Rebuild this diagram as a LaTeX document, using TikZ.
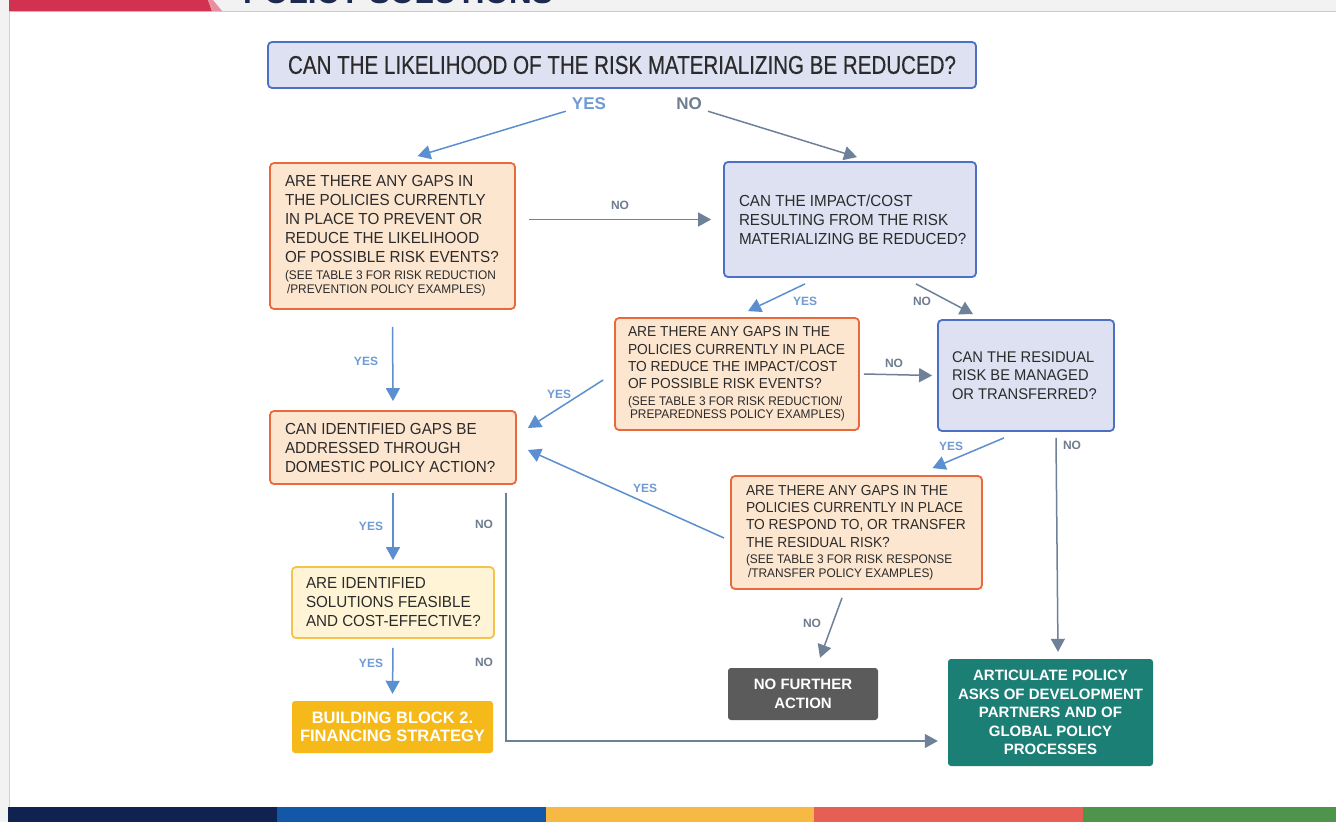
\documentclass[tikz,border=0pt]{standalone}
\usepackage{fontspec}
\setmainfont{Liberation Sans}
\newfontfamily\condfont{Liberation Sans}[FakeStretch=0.8,FakeBold=0.4]
\newfontfamily\boxfont{Liberation Sans}[FakeStretch=0.95]
\usetikzlibrary{arrows.meta}
\definecolor{txt}{HTML}{2B2B2B}
\definecolor{lavfill}{HTML}{DDE1F2}
\definecolor{lavline}{HTML}{4D6FC4}
\definecolor{orfill}{HTML}{FDE6D0}
\definecolor{orline}{HTML}{E9693A}
\definecolor{ylfill}{HTML}{FFF5D6}
\definecolor{ylline}{HTML}{F3C34E}
\definecolor{ysolid}{HTML}{F6B91A}
\definecolor{dgrey}{HTML}{5B5B5B}
\definecolor{teal}{HTML}{1B7F76}
\definecolor{yesarr}{HTML}{5C8FD0}
\definecolor{noarr}{HTML}{6E8199}
\definecolor{yestxt}{HTML}{6F9BD5}
\definecolor{notxt}{HTML}{6E7D8F}
\definecolor{hdrgrey}{HTML}{F2F2F2}
\definecolor{hdrred}{HTML}{D23250}
\definecolor{hdrpink}{HTML}{E8909F}
\definecolor{hdrnavy}{HTML}{1B2A4E}
\definecolor{barnavy}{HTML}{10224F}
\definecolor{barblue}{HTML}{1257A8}
\definecolor{baryel}{HTML}{F6B944}
\definecolor{barred}{HTML}{E65F55}
\definecolor{bargreen}{HTML}{4E954B}
\newcommand\mainsz{\boxfont\fontsize{16}{19}\selectfont}
\newcommand\smsz{\boxfont\fontsize{14.5}{17.3}\selectfont}
\newcommand\notesz{\boxfont\fontsize{12.5}{14}\selectfont}
\newcommand\notesmsz{\boxfont\fontsize{12.5}{13.5}\selectfont}
\tikzset{
  >={Triangle[length=13pt,width=14pt]},
  box/.style={rectangle,rounded corners=4pt,line width=1.8pt,align=flush left,inner xsep=15pt,inner ysep=0pt,text=txt,font=\mainsz,
    execute at begin node={\rightskip=0pt plus 1fil minus 30pt}},
  lav/.style={box,draw=lavline,fill=lavfill},
  org/.style={box,draw=orline,fill=orfill},
  ylw/.style={box,draw=ylline,fill=ylfill},
  endbox/.style={rectangle,rounded corners=3pt,align=center,text=white,inner sep=0pt,font=\bfseries\fontsize{15}{18.5}\selectfont},
  yl/.style={text=yestxt,inner sep=1pt,font=\bfseries\fontsize{12}{12}\selectfont},
  nl/.style={text=notxt,inner sep=1pt,font=\bfseries\fontsize{12}{12}\selectfont},
  ya/.style={->,draw=yesarr,line width=1.5pt},
  na/.style={->,draw=noarr,line width=1.5pt},
}
\begin{document}
\begin{tikzpicture}[x=1pt,y=-1pt]
\useasboundingbox (0,0) rectangle (1336,822);
% page frame
\fill[white] (0,0) rectangle (1336,822);
\fill[hdrgrey] (0,0) rectangle (9,822);
\draw[black!18,line width=0.8pt] (9,11) -- (9,822);
\fill[hdrgrey] (9,0) rectangle (1336,11);
\draw[black!20,line width=0.8pt] (9,11.5) -- (1336,11.5);
\fill[hdrred] (9,0) -- (208,0) -- (212,11) -- (9,11) -- cycle;
\fill[hdrpink] (208,0) -- (213,0) -- (222,11) -- (212,11) -- cycle;
\begin{scope}
\clip (9,0) rectangle (1336,11);
\node[anchor=base west,inner sep=0pt,text=hdrnavy,font=\bfseries\fontsize{31.5}{32}\selectfont] (hdr) at (243,3) {POLICY SOLUTIONS};
\end{scope}
\fill[barnavy] (8,807) rectangle (277,822);
\fill[barblue] (277,807) rectangle (546,822);
\fill[baryel] (546,807) rectangle (814,822);
\fill[barred] (814,807) rectangle (1083,822);
\fill[bargreen] (1083,807) rectangle (1336,822);

% question boxes
\node[lav,minimum width=708pt,minimum height=46pt,align=center,font=\condfont\fontsize{25.7}{26}\selectfont] (T) at (622,65) {CAN THE LIKELIHOOD OF THE RISK MATERIALIZING BE REDUCED?};
\node[org,text width=215pt,minimum height=146pt] (A) at (392.5,236) {ARE THERE ANY GAPS IN\\ THE POLICIES CURRENTLY\\ IN PLACE TO PREVENT OR\\ REDUCE THE LIKELIHOOD\\ OF POSSIBLE RISK EVENTS?\par\notesz\vspace{3pt}(SEE TABLE 3 FOR RISK REDUCTION\\ \hspace*{2pt}/PREVENTION POLICY EXAMPLES)\par};
\node[lav,text width=222pt,minimum height=115pt] (B) at (850,219.5) {CAN THE IMPACT/COST\\ RESULTING FROM THE RISK\\ MATERIALIZING BE REDUCED?};
\node[org,inner xsep=13pt,text width=218pt,minimum height=112pt,font=\smsz] (C) at (737,374) {ARE THERE ANY GAPS IN THE\\ POLICIES CURRENTLY IN PLACE\\ TO REDUCE THE IMPACT/COST\\ OF POSSIBLE RISK EVENTS?\par\notesmsz\vspace{3pt}(SEE TABLE 3 FOR RISK REDUCTION/\\ \hspace*{2pt}PREPAREDNESS POLICY EXAMPLES)\par};
\node[lav,inner xsep=14pt,text width=148pt,minimum height=111pt,font=\boxfont\fontsize{15.5}{18.5}\selectfont] (D) at (1026,375.5) {CAN THE RESIDUAL\\ RISK BE MANAGED\\ OR TRANSFERRED?};
\node[org,text width=216pt,minimum height=73pt] (E) at (393,447.5) {CAN IDENTIFIED GAPS BE\\ ADDRESSED THROUGH\\ DOMESTIC POLICY ACTION?};
\node[org,text width=221pt,minimum height=113pt,font=\smsz] (F) at (856.5,532.5) {ARE THERE ANY GAPS IN THE\\ POLICIES CURRENTLY IN PLACE\\ TO RESPOND TO, OR TRANSFER\\ THE RESIDUAL RISK?\par\notesmsz\vspace{3pt}(SEE TABLE 3 FOR RISK RESPONSE\\ \hspace*{2pt}/TRANSFER POLICY EXAMPLES)\par};
\node[ylw,inner xsep=14pt,text width=174pt,minimum height=71pt] (G) at (393,602.5) {ARE IDENTIFIED\\ SOLUTIONS FEASIBLE\\ AND COST-EFFECTIVE?};

% end points
\node[endbox,fill=ysolid,minimum width=201pt,minimum height=52pt,font=\bfseries\fontsize{16.5}{18.5}\selectfont] (H) at (392.5,727) {BUILDING BLOCK 2.\\ FINANCING STRATEGY};
\node[endbox,fill=dgrey,minimum width=150pt,minimum height=52pt] (I) at (803,694) {NO FURTHER\\ ACTION};
\node[endbox,fill=teal,minimum width=205pt,minimum height=107pt] (J) at (1050.5,712.5) {ARTICULATE POLICY\\ ASKS OF DEVELOPMENT\\ PARTNERS AND OF\\ GLOBAL POLICY\\ PROCESSES};

% labels
\node[yl,font=\bfseries\fontsize{17}{17}\selectfont] (ly0) at (589,104) {YES};
\node[nl,font=\bfseries\fontsize{17}{17}\selectfont] (ln0) at (689,104) {NO};
\node[nl] (lnA) at (620,205) {NO};
\node[yl] (lyA) at (366,361) {YES};
\node[yl] (lyB) at (805,301) {YES};
\node[nl] (lnB) at (922,301) {NO};
\node[nl] (lnC) at (894,363) {NO};
\node[yl] (lyC) at (559,394) {YES};
\node[yl] (lyD) at (951,446) {YES};
\node[nl] (lnD) at (1072,445) {NO};
\node[yl] (lyF) at (645,488) {YES};
\node[nl] (lnF) at (812,623) {NO};
\node[yl] (lyE) at (371,526) {YES};
\node[nl] (lnE) at (484,524) {NO};
\node[yl] (lyG) at (371,663) {YES};
\node[nl] (lnG) at (484,662) {NO};

% connectors
\draw[ya] ([xshift=-5pt]ly0.south west) -- ([xshift=25pt,yshift=6pt]A.north);
\draw[na] ([xshift=5pt]ln0.south east) -- ([xshift=7pt,yshift=4pt]B.north);
\draw[na] ([xshift=13pt]A.east |- B.west) -- ([xshift=-12pt]B.west);
\draw[ya] ([yshift=-17pt]A.south) -- ([yshift=9pt]E.north);
\draw[ya] ([xshift=-45pt,yshift=-6pt]B.south) -- ([xshift=11pt,yshift=6pt]C.north);
\draw[na] ([xshift=66pt,yshift=-6pt]B.south) -- ([xshift=-53pt,yshift=5pt]D.north);
\draw[na] ([xshift=4pt]C.east) -- ([xshift=-5pt]D.west);
\draw[ya] ([xshift=-11pt,yshift=-6pt]C.west) -- ([xshift=11pt,yshift=19.5pt]E.east);
\draw[ya] ([xshift=-22pt,yshift=-6pt]D.south) -- ([xshift=76pt,yshift=7pt]F.north);
\draw[na] ([xshift=30pt,yshift=-6pt]D.south) -- ([xshift=7.5pt,yshift=7pt]J.north);
\draw[ya] ([xshift=-6pt,yshift=-5.5pt]F.west) -- ([xshift=11pt,yshift=-2.5pt]E.east);
\draw[na] ([xshift=-14.5pt,yshift=-8pt]F.south) -- ([xshift=17pt,yshift=10pt]I.north);
\draw[ya] ([yshift=-8pt]E.south) -- ([yshift=6pt]G.north);
\draw[na] ([xshift=-11pt,yshift=-8pt]E.south east) |- ([xshift=-10pt,yshift=-28.5pt]J.west);
\draw[ya] ([yshift=-9pt]G.south) -- ([yshift=7pt]H.north);
\end{tikzpicture}
\end{document}
